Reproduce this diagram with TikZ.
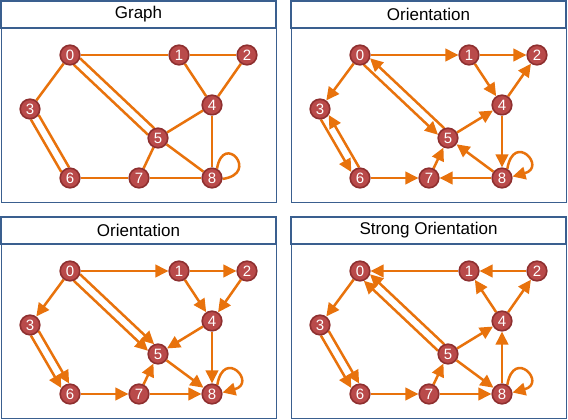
\documentclass[tikz,border=0pt]{standalone}
\usepackage{fontspec}
\setmainfont{Liberation Sans}
\usetikzlibrary{arrows.meta,calc}
\definecolor{edgeor}{RGB}{232,114,12}
\definecolor{vfill}{RGB}{185,74,74}
\definecolor{vdraw}{RGB}{142,47,47}
\definecolor{pblue}{RGB}{58,95,143}
\pgfdeclarelayer{panels}
\pgfdeclarelayer{edges}
\pgfsetlayers{panels,edges,main}
\tikzset{
 vtx/.style={circle, fill=vfill, draw=vdraw, line width=1.6pt, minimum size=19.6pt, inner sep=0pt, text=white, font=\fontsize{15}{15}\selectfont},
 edge/.style={draw=edgeor, line width=2.5pt},
 arr/.style={edge, -{Triangle[length=13pt,width=12.5pt]}},
 rarr/.style={edge, {Triangle[length=13pt,width=12.5pt]}-},
 par/.style={shorten >=9.5pt, shorten <=9.5pt},
 panelbody/.style={draw=pblue, line width=1pt, fill=white},
 paneltitle/.style={draw=pblue, line width=1.6pt, fill=white},
 ttl/.style={font=\fontsize{17}{20}\selectfont, text=black},
}
\newcommand\vnodes[1]{%
 \node[vtx] (#10) at (70,55) {0};
 \node[vtx] (#11) at (179,55) {1};
 \node[vtx] (#12) at (247,55) {2};
 \node[vtx] (#13) at (30,109) {3};
 \node[vtx] (#14) at (212,105) {4};
 \node[vtx] (#15) at (158,138) {5};
 \node[vtx] (#16) at (70,178) {6};
 \node[vtx] (#17) at (139,178) {7};
 \node[vtx] (#18) at (212,178) {8};
}
% parallel pair: #1,#2 nodes; #3 style of line on left side of #1->#2, #4 style of the other
\newcommand\dbl[4]{%
 \draw[#3,par] ($(#1)!4.5pt!90:(#2)$) -- ($(#2)!4.5pt!-90:(#1)$);
 \draw[#4,par] ($(#1)!4.5pt!-90:(#2)$) -- ($(#2)!4.5pt!90:(#1)$);
}
\newcommand\panel[2]{%
 \begin{pgfonlayer}{panels}
 \draw[panelbody] (1,1) rectangle (276,202);
 \draw[paneltitle] (1,1) rectangle (276,28);
 \end{pgfonlayer}
 \node[ttl] (#1) at (138.5,14.5) {#2};
}
\begin{document}
\begin{tikzpicture}[x=1pt,y=-1pt]
\useasboundingbox (0,0) rectangle (568,420);
\begin{pgfonlayer}{panels}
\fill[white] (0,0) rectangle (568,420);
\end{pgfonlayer}
% ---------- Graph ----------
\begin{scope}
 \panel{tA}{Graph}
 \vnodes{a}
 \begin{pgfonlayer}{edges}
 \draw[edge] (a0) -- (a1);
 \draw[edge] (a1) -- (a2);
 \draw[edge] (a0) -- (a3);
 \draw[edge] (a1) -- (a4);
 \draw[edge] (a2) -- (a4);
 \draw[edge] (a4) -- (a5);
 \draw[edge] (a4) -- (a8);
 \draw[edge] (a5) -- (a7);
 \draw[edge] (a5) -- (a8);
 \draw[edge] (a6) -- (a7);
 \draw[edge] (a7) -- (a8);
 \dbl{a0}{a5}{edge}{edge}
 \dbl{a3}{a6}{edge}{edge}
 \draw[edge] (a8.62) .. controls +(-80:38) and +(-8:38) .. (a8.-5);
 \end{pgfonlayer}
\end{scope}
% ---------- Orientation (top right) ----------
\begin{scope}[shift={(290,0)}]
 \panel{tB}{Orientation}
 \vnodes{b}
 \begin{pgfonlayer}{edges}
 \draw[arr] (b0) -- (b1);
 \draw[arr] (b1) -- (b2);
 \draw[arr] (b0) -- (b3);
 \draw[arr] (b1) -- (b4);
 \draw[arr] (b4) -- (b2);
 \draw[arr] (b5) -- (b4);
 \draw[arr] (b4) -- (b8);
 \draw[arr] (b8) -- (b5);
 \draw[arr] (b7) -- (b5);
 \draw[arr] (b6) -- (b7);
 \draw[arr] (b8) -- (b7);
 \dbl{b0}{b5}{rarr}{arr}
 \dbl{b3}{b6}{rarr}{arr}
 \draw[arr] (b8.60) .. controls +(-80:38) and +(-15:36) .. (b8.8);
 \end{pgfonlayer}
\end{scope}
% ---------- Orientation (bottom left) ----------
\begin{scope}[shift={(0,216)}]
 \panel{tC}{Orientation}
 \vnodes{c}
 \begin{pgfonlayer}{edges}
 \draw[arr] (c0) -- (c1);
 \draw[arr] (c1) -- (c2);
 \draw[arr] (c0) -- (c3);
 \draw[arr] (c1) -- (c4);
 \draw[arr] (c2) -- (c4);
 \draw[arr] (c4) -- (c5);
 \draw[arr] (c4) -- (c8);
 \draw[arr] (c5) -- (c8);
 \draw[arr] (c7) -- (c5);
 \draw[arr] (c6) -- (c7);
 \draw[arr] (c7) -- (c8);
 \dbl{c0}{c5}{arr}{arr}
 \dbl{c3}{c6}{arr}{arr}
 \draw[arr] (c8.60) .. controls +(-80:38) and +(-15:36) .. (c8.8);
 \end{pgfonlayer}
\end{scope}
% ---------- Strong Orientation (bottom right) ----------
\begin{scope}[shift={(290,216)}]
 \panel{tD}{Strong Orientation}
 \vnodes{d}
 \begin{pgfonlayer}{edges}
 \draw[arr] (d1) -- (d0);
 \draw[arr] (d2) -- (d1);
 \draw[arr] (d0) -- (d3);
 \draw[arr] (d4) -- (d1);
 \draw[arr] (d4) -- (d2);
 \draw[arr] (d5) -- (d4);
 \draw[arr] (d8) -- (d4);
 \draw[arr] (d5) -- (d8);
 \draw[arr] (d7) -- (d5);
 \draw[arr] (d6) -- (d7);
 \draw[arr] (d7) -- (d8);
 \dbl{d5}{d0}{arr}{arr}
 \dbl{d3}{d6}{arr}{arr}
 \draw[arr] (d8.60) .. controls +(-80:38) and +(-15:36) .. (d8.8);
 \end{pgfonlayer}
\end{scope}
\end{tikzpicture}
\end{document}
